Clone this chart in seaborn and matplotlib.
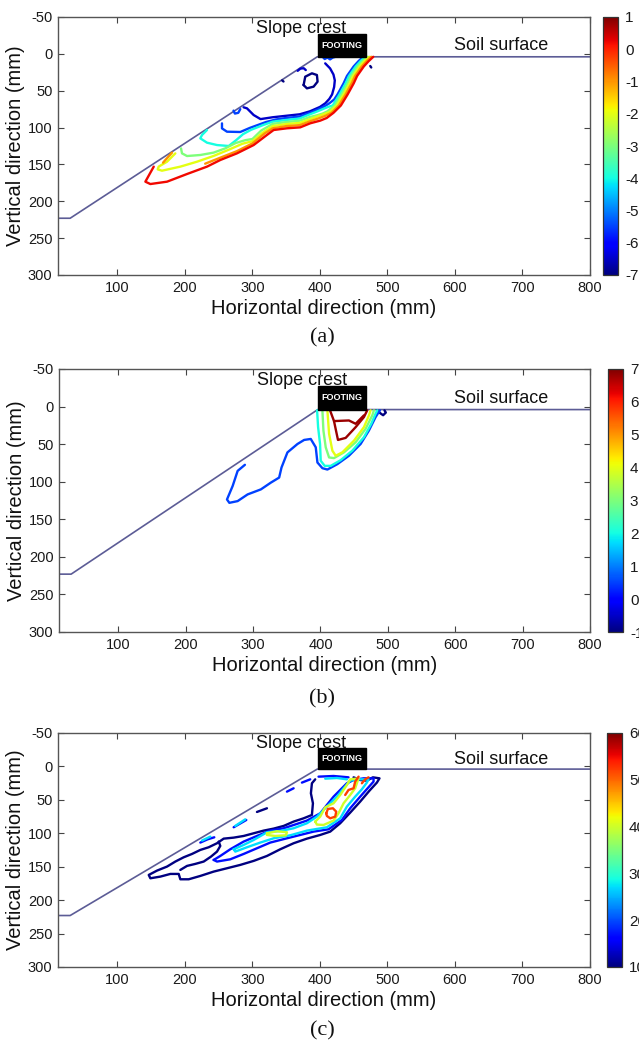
import matplotlib
matplotlib.use("Agg")
import matplotlib.pyplot as plt
import seaborn as sns
import pandas as pd
from matplotlib.colors import Normalize
from matplotlib.cm import ScalarMappable
from matplotlib.patches import Rectangle

sns.set_theme(style="white")
plt.rcParams["font.family"] = ["Liberation Sans", "DejaVu Sans"]
plt.rcParams["axes.unicode_minus"] = False

JET = matplotlib.colormaps["jet"]

# ---------------- geometry of the model slope (mm) ----------------
ground_x = [12, 30, 396, 800]
ground_y = [223, 223, 4, 4]
footing_x = [397, 468]
footing_y = [-27, 4]

x_ticks = [100, 200, 300, 400, 500, 600, 700, 800]
y_ticks = [-50, 0, 50, 100, 150, 200, 250, 300]

# ---------------- (a) contour lines ----------------
a_range = [-7, 1]
a_cticks = [1, 0, -1, -2, -3, -4, -5, -6, -7]
a_levels = [0.2, -1, -1, -2, -3, -4, -5.5, -6.5, -7, -6.5, -5.5, -7, -7, -5.5]
a_xs = [
    [153.8, 141.4, 148.8, 173.5, 203.1, 232.7, 252.4, 277, 301.8, 321.5, 331.4, 351, 370.8, 385.6, 400.4, 410, 420, 431, 441, 450, 455, 465, 472, 479],
    [180.9, 171, 167.6],
    [230, 252, 277, 300, 318, 330, 350, 370, 385, 398, 408, 417, 428, 438, 447, 452, 462, 469, 476],
    [185.8, 173.5, 161.1, 159.7, 166, 193.2, 217.9, 242.5, 265, 285, 300, 315, 330, 350, 370, 385, 396, 405, 414, 425, 435, 444, 449, 459, 466, 473],
    [194.2, 195.7, 203.1, 222.8, 242.5, 259.8, 275, 290, 300, 313, 330, 350, 370, 385, 395, 404, 411, 422, 432, 441, 446, 456, 463, 470],
    [232.7, 225.3, 222.8, 232.7, 247.5, 264.8, 276, 286, 298, 316, 330, 350, 370, 383, 395, 404, 412, 419, 429, 438, 443, 453, 460, 467],
    [254.9, 254.9, 262.3, 282, 296, 308, 320, 335, 350, 370, 385, 398, 407, 414, 421, 426, 435, 440, 450, 457, 464],
    [286.9, 291.9, 301.8, 312, 330, 350, 370, 385, 400, 408, 414, 418, 421, 422, 420, 415, 407.8],
    [375.8, 378.2, 388.1, 395.5, 396.5, 390.6, 380.7, 375.8],
    [367, 371, 376, 379],
    [272, 274, 279, 282],
    [344, 346],
    [474.5, 476],
    [404, 407, 411, 415, 419, 423],
]
a_ys = [
    [153, 173.4, 176.6, 173.4, 163, 153, 144, 135, 123.7, 110, 103.3, 101, 99.7, 94.2, 90.6, 87, 80, 70, 55, 40, 30, 17, 10, 4],
    [134, 144, 147.6],
    [149, 141, 132, 121.5, 108, 101, 98, 96.7, 91.5, 87.5, 84, 80, 70, 55, 40, 30, 17, 10, 4],
    [135, 146.3, 153, 156.7, 158.5, 153, 146.3, 138.5, 130, 122, 118.5, 107, 98, 95.2, 93.7, 88.6, 85, 82, 79, 70, 55, 40, 30, 17, 10, 4],
    [128.2, 135, 138.6, 137.2, 134, 128.2, 121, 117, 115.5, 104, 95, 92.5, 90.7, 85.7, 83.5, 81, 78, 70, 55, 40, 30, 17, 10, 4],
    [103.3, 110.1, 114.6, 120.5, 123.7, 125, 117, 109, 103, 96.5, 92, 89.7, 87.7, 82.8, 78.5, 75, 72, 70, 55, 40, 30, 17, 10, 4],
    [94.3, 101.1, 105.6, 106, 100.5, 96.5, 92.5, 89, 87, 85, 80, 75, 71, 67, 62, 55, 40, 30, 17, 10, 4],
    [72.5, 73.9, 83, 88.5, 86, 84, 82, 78, 72, 67, 61, 55, 45, 36, 28, 19.7, 12.9],
    [42.3, 31, 26.4, 28.7, 37.7, 44.5, 46.8, 42.3],
    [23, 20, 19.5, 22],
    [77, 81, 80, 75],
    [36, 37.5],
    [16.5, 18.5],
    [4, 7, 5, 7.5, 5, 4],
]

# ---------------- (b) contour lines ----------------
b_range = [-1, 7]
b_cticks = [7, 6, 5, 4, 3, 2, 1, 0, -1]
b_levels = [0.5, 2, 3, 4, 6.8, 6.8, -1]
b_xs = [
    [287.9, 277.1, 269.7, 261.3, 264.8, 277.1, 291.9, 311.6, 326.4, 338.7, 342.2, 351, 365.9, 375.8, 385.6, 393, 395.5, 402.9, 410.3, 425.1, 442.3, 459.6, 471.9, 481.8, 488.2],
    [395, 396.5, 399.4, 400.4, 406.3, 415.2, 430, 447.3, 464.5, 475.4, 481.8, 484.3],
    [402.9, 404.4, 407.8, 412.8, 420.1, 434.9, 452.2, 467, 476.9, 479.4],
    [410.3, 412.8, 417.7, 422.6, 432.5, 449.8, 464.5, 472, 474.4],
    [414.2, 420.1, 426, 437.4, 452.2, 464.5, 469.4],
    [420.1, 442.3, 452.2, 464.5],
    [484, 489, 493, 497, 495],
]
b_ys = [
    [77.5, 85.6, 105.7, 123.6, 128.1, 125.8, 116.9, 110.2, 101.2, 94.5, 81.1, 61, 49.8, 44.4, 43.1, 54.2, 74.4, 82, 83.8, 76.6, 65.4, 49.8, 31.9, 14, 5],
    [5, 27.4, 49.8, 72.1, 78.9, 78.9, 71.3, 58.7, 40.8, 22.9, 9.5, 5],
    [5, 31.9, 54.2, 67.7, 68.6, 60.9, 47.5, 29.6, 11.7, 5],
    [5, 36.3, 58.7, 65.4, 60.9, 45.3, 27.4, 11.7, 5],
    [5, 19.3, 44.4, 41.7, 27.4, 14, 5],
    [19.3, 18.5, 22.9, 11.7],
    [5, 9, 11.5, 8, 5],
]

# ---------------- (c) contour lines ----------------
c_range = [10, 60]
c_cticks = [60, 50, 40, 30, 20, 10]
c_levels = [10, 10, 17, 27, 40, 40, 52, 52, 52, 17, 27,
            27, 17, 27, 17, 10, 17, 17]
c_xs = [
    # outer envelope
    [393.0, 388.1, 386.6, 389.6, 388.1, 375.8, 361.0, 346.2, 331.4, 316.6, 301.8, 287.0, 272.2, 257.4, 247.5, 235.2, 222.8, 210.5, 198.2, 185.8, 173.5, 158.7, 146.4, 148.8, 163.6, 178.4, 190.8, 193.2, 205.6, 222.8, 242.6, 262.3, 282.0, 301.8, 321.5, 341.2, 361.0, 380.7, 400.4, 415.2, 430.0, 444.8, 459.6, 473.4, 484.3, 488.2, 478.4, 469.5, 459.6, 449.8],
    # inner lobe, lower left
    [193.2, 203.1, 215.4, 227.8, 238.6, 247.5, 252.4, 250.0],
    # 17 loop
    [242.6, 252.4, 267.2, 287.0, 306.7, 326.4, 346.2, 365.9, 380.7, 400.4, 410.3, 420.2, 430.0, 439.9, 449.8, 464.5, 479.4, 479.4, 471.9, 459.6, 444.8, 432.5, 412.8, 390.6, 370.8, 351.1, 326.4, 306.7, 287.0, 267.2, 247.5, 242.6],
    # 27 loop
    [272.2, 287.0, 301.8, 321.5, 341.2, 361.0, 380.7, 395.5, 405.4, 415.2, 425.1, 435.0, 444.8, 457.2, 471.9, 469.5, 462.1, 452.2, 439.9, 430.0, 410.3, 380.7, 356.0, 331.4, 311.6, 291.9, 274.6, 272.2],
    # 40 blob
    [321.5, 336.3, 351.1, 349.6, 333.8, 321.5, 321.5],
    # 40 loop near the footing
    [393.0, 400.4, 407.8, 420.2, 430.0, 439.9, 444.8, 457.2, 452.2, 444.8, 435.0, 427.5, 420.2, 405.4, 395.5, 393.0],
    # 52 ring
    [409.3, 411.8, 419.2, 424.1, 422.6, 415.2, 410.3, 409.3],
    [437.4, 442.3, 449.8, 452.2, 457.2],
    [462.1, 467.0, 471.9],
    # strips under the surface
    [397.9, 420.2, 442.3],
    [407.8, 425.1, 439.9],
    # small patches along the slope face
    [225.3, 237.6],
    [222.8, 233.7, 243.5],
    [274.6, 289.4],
    [272.2, 290.9],
    [306.7, 321.5],
    [351.1, 361.0],
    [373.3, 385.6],
]
c_ys = [
    [19.3, 25.2, 40.2, 55.1, 72.6, 77.6, 82.5, 89.0, 93.0, 96.0, 100.0, 104.0, 106.5, 108.0, 114.9, 120.9, 124.9, 130.9, 135.9, 142.3, 149.8, 155.8, 162.3, 167.3, 164.8, 160.8, 160.8, 168.8, 168.8, 163.8, 157.3, 152.3, 147.3, 141.3, 133.9, 123.9, 114.9, 108.0, 102.5, 97.5, 85.0, 69.1, 52.6, 36.2, 24.2, 17.8, 16.3, 21.3, 20.3, 16.3],
    [154.8, 148.8, 145.8, 142.3, 134.9, 127.4, 118.9, 112.4],
    [139.9, 133.9, 123.9, 112.4, 104.0, 96.0, 92.5, 86.0, 81.0, 70.1, 57.6, 45.2, 35.2, 25.2, 20.3, 17.8, 17.8, 22.7, 31.2, 45.2, 62.6, 80.1, 94.0, 97.5, 102.5, 107.5, 113.9, 122.4, 130.9, 138.9, 142.3, 139.9],
    [123.9, 117.4, 110.0, 98.5, 96.5, 92.5, 85.0, 75.1, 65.1, 55.1, 45.2, 32.7, 21.3, 19.3, 19.3, 24.2, 34.2, 45.2, 60.1, 77.6, 91.0, 96.0, 103.0, 107.5, 113.9, 120.9, 127.4, 123.9],
    [100.0, 97.0, 98.5, 103.0, 104.0, 102.5, 100.0],
    [82.5, 75.1, 61.1, 55.1, 42.7, 27.7, 19.3, 17.8, 32.7, 42.7, 55.1, 70.1, 81.0, 87.5, 87.0, 82.5],
    [70.1, 63.6, 62.6, 67.6, 75.1, 77.6, 74.1, 70.1],
    [42.7, 35.2, 32.7, 22.7, 15.3],
    [25.2, 19.3, 16.3],
    [15.3, 14.3, 16.3],
    [18.3, 17.3, 19.3],
    [110.9, 105.0],
    [113.9, 109.0, 106.0],
    [89.0, 79.1],
    [91.0, 80.1],
    [68.1, 62.6],
    [37.7, 32.7],
    [24.2, 19.3],
]

W, H = 639, 1046


def box(left, top, right, bottom):
    return [left / W, 1 - bottom / H, (right - left) / W, (bottom - top) / H]


def pieces_frame(levels, xs, ys):
    rows = []
    for i, (lev, px, py) in enumerate(zip(levels, xs, ys)):
        for k, (xv, yv) in enumerate(zip(px, py)):
            rows.append({"piece": i, "order": k, "level": lev, "x": xv, "y": yv})
    return pd.DataFrame(rows)


def draw_panel(ax, cax, levels, xs, ys, vrange, cticks, tag, tag_y):
    df = pieces_frame(levels, xs, ys)
    sns.lineplot(data=df, x="x", y="y", hue="level", units="piece",
                 estimator=None, sort=False, palette=JET,
                 hue_norm=tuple(vrange), legend=False, linewidth=1.7,
                 ax=ax, zorder=3)
    ax.plot(ground_x, ground_y, color="#5c5c96", lw=1.2, zorder=2)
    ax.add_patch(Rectangle((footing_x[0], footing_y[0]),
                           footing_x[1] - footing_x[0],
                           footing_y[1] - footing_y[0],
                           facecolor="black", edgecolor="black", zorder=4))
    ax.text(sum(footing_x) / 2, sum(footing_y) / 2, "FOOTING", color="white",
            fontsize=6.5, fontweight="bold", ha="center", va="center", zorder=5)
    ax.text(372, -35, "Slope crest", fontsize=13, ha="center", va="center",
            color="#111111")
    ax.text(668, -11, "Soil surface", fontsize=13, ha="center", va="center",
            color="#111111")

    ax.set_xlim(12, 800)
    ax.set_ylim(300, -50)
    ax.set_xticks(x_ticks)
    ax.set_yticks(y_ticks)
    ax.tick_params(direction="in", length=4, width=0.8, top=True, right=True,
                   bottom=True, left=True, labelsize=10.5, color="#444444",
                   labelcolor="#1a1a1a", pad=4)
    for sp in ax.spines.values():
        sp.set_color("#555555")
        sp.set_linewidth(1.0)
    ax.set_xlabel("Horizontal direction (mm)", fontsize=14.5, labelpad=3,
                  color="#111111")
    ax.set_ylabel("Vertical direction (mm)", fontsize=14.5, labelpad=2,
                  color="#111111")
    ax.set_facecolor("white")

    sm = ScalarMappable(norm=Normalize(*vrange), cmap=JET)
    cb = plt.gcf().colorbar(sm, cax=cax, ticks=cticks)
    cb.ax.tick_params(direction="in", length=3, width=0.6, labelsize=11,
                      pad=5, color="#333333", labelcolor="#1a1a1a")
    cb.outline.set_edgecolor("#333333")
    cb.outline.set_linewidth(0.9)

    plt.gcf().text(322 / W, 1 - tag_y / H, tag, fontsize=16, ha="center",
                   va="center", family=["Liberation Serif", "DejaVu Serif"],
                   color="#111111")


fig = plt.figure(figsize=(W / 100, H / 100), dpi=100)
fig.patch.set_facecolor("white")

ax_a = fig.add_axes(box(58, 17, 590, 275))
cax_a = fig.add_axes(box(603, 17, 618, 275))
draw_panel(ax_a, cax_a, a_levels, a_xs, a_ys, a_range, a_cticks, "(a)", 338)

ax_b = fig.add_axes(box(59, 369, 590, 632))
cax_b = fig.add_axes(box(608, 369, 623, 632))
draw_panel(ax_b, cax_b, b_levels, b_xs, b_ys, b_range, b_cticks, "(b)", 699)

ax_c = fig.add_axes(box(58, 733, 590, 967))
cax_c = fig.add_axes(box(607, 733, 622, 967))
draw_panel(ax_c, cax_c, c_levels, c_xs, c_ys, c_range, c_cticks, "(c)", 1031)

fig.savefig("out.png", dpi=100, facecolor="white")
